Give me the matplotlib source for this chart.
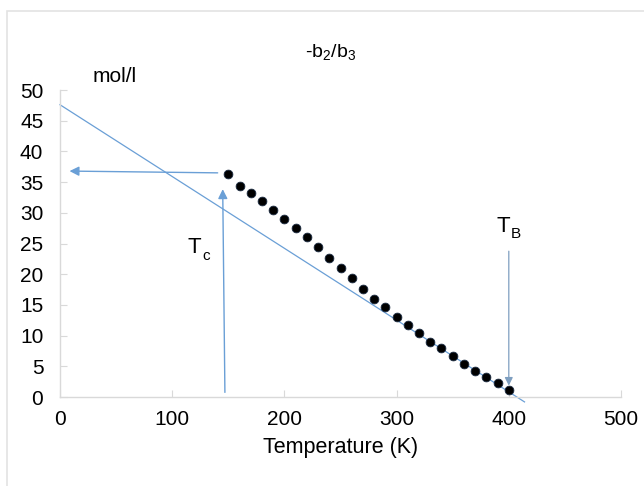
import numpy as np
import matplotlib.pyplot as plt
from matplotlib.patches import Rectangle

plt.rcParams['font.family'] = ['Liberation Sans', 'DejaVu Sans']

# data
temp = [150, 160, 170, 180, 190, 200, 210, 220, 230, 240, 250, 260, 270,
        280, 290, 300, 310, 320, 330, 340, 350, 360, 370, 380, 390, 400]
ratio = [36.3, 34.4, 33.2, 31.9, 30.5, 29.0, 27.5, 26.0, 24.4, 22.7, 21.0, 19.3, 17.6,
         16.0, 14.6, 13.1, 11.8, 10.4, 9.0, 7.9, 6.6, 5.4, 4.3, 3.3, 2.3, 1.2]

# straight fit line
fit_x = [0, 414]
fit_y = [47.6, -0.8]

xticks = [0, 100, 200, 300, 400, 500]
yticks = [0, 5, 10, 15, 20, 25, 30, 35, 40, 45, 50]

blue = '#6a9fd6'
grey = '#d9d9d9'

fig = plt.figure(figsize=(6.44, 4.86), dpi=100)
fig.patches.append(Rectangle((7/644, -0.1), 1.2, 1.1 - 11/486, transform=fig.transFigure,
                             fill=False, edgecolor='#e3e3e3', linewidth=1.2))
ax = fig.add_axes([60/644, 1 - 397/486, 561/644, 307/486])

ax.plot(fit_x, fit_y, color=blue, linewidth=0.9, clip_on=False)
ax.plot(temp, ratio, 'o', color='black', markersize=6.3, markeredgecolor='#1a2a40',
        markeredgewidth=0.6, clip_on=False, zorder=3)

# arrows
arw = dict(arrowstyle='-|>', color=blue, lw=1.0, mutation_scale=14)
ax.annotate('', xy=(6, 36.8), xytext=(143, 36.5), arrowprops=arw)
ax.annotate('', xy=(145, 34.3), xytext=(147, 0.3), arrowprops=arw, annotation_clip=False)
arw2 = dict(arrowstyle='-|>', color='#7f9fc0', lw=0.9, mutation_scale=12)
ax.annotate('', xy=(400, 1.4), xytext=(400, 24.2), arrowprops=arw2)

# T_c and T_B labels, subscript set lower as in the original
ax.text(114, 23.5, 'T', fontsize=16, va='baseline')
ax.annotate('c', xy=(114, 23.5), xytext=(10.5, -5.5), textcoords='offset points',
            fontsize=11, va='baseline')
ax.text(389, 26.9, 'T', fontsize=16, va='baseline')
ax.annotate('B', xy=(389, 26.9), xytext=(10.5, -4.5), textcoords='offset points',
            fontsize=11, va='baseline')

ax.set_xlim(0, 500)
ax.set_ylim(0, 50)
ax.set_xticks(xticks)
ax.set_yticks(yticks)
ax.tick_params(axis='both', direction='in', length=5, color=grey, labelsize=15)
ax.tick_params(axis='x', pad=9)
ax.tick_params(axis='y', pad=12)
for s in ['top', 'right']:
    ax.spines[s].set_visible(False)
for s in ['left', 'bottom']:
    ax.spines[s].set_color(grey)
    ax.spines[s].set_linewidth(1.0)

ax.set_xlabel('Temperature (K)', fontsize=15.5, labelpad=6)
fig.text(331/644, 1 - 53/486, r'-b$_\mathregular{2}$/b$_\mathregular{3}$', fontsize=14,
         ha='center', va='center')
fig.text(93/644, 1 - 76/486, 'mol/l', fontsize=15, ha='left', va='center')

fig.savefig('out.png', dpi=100)
